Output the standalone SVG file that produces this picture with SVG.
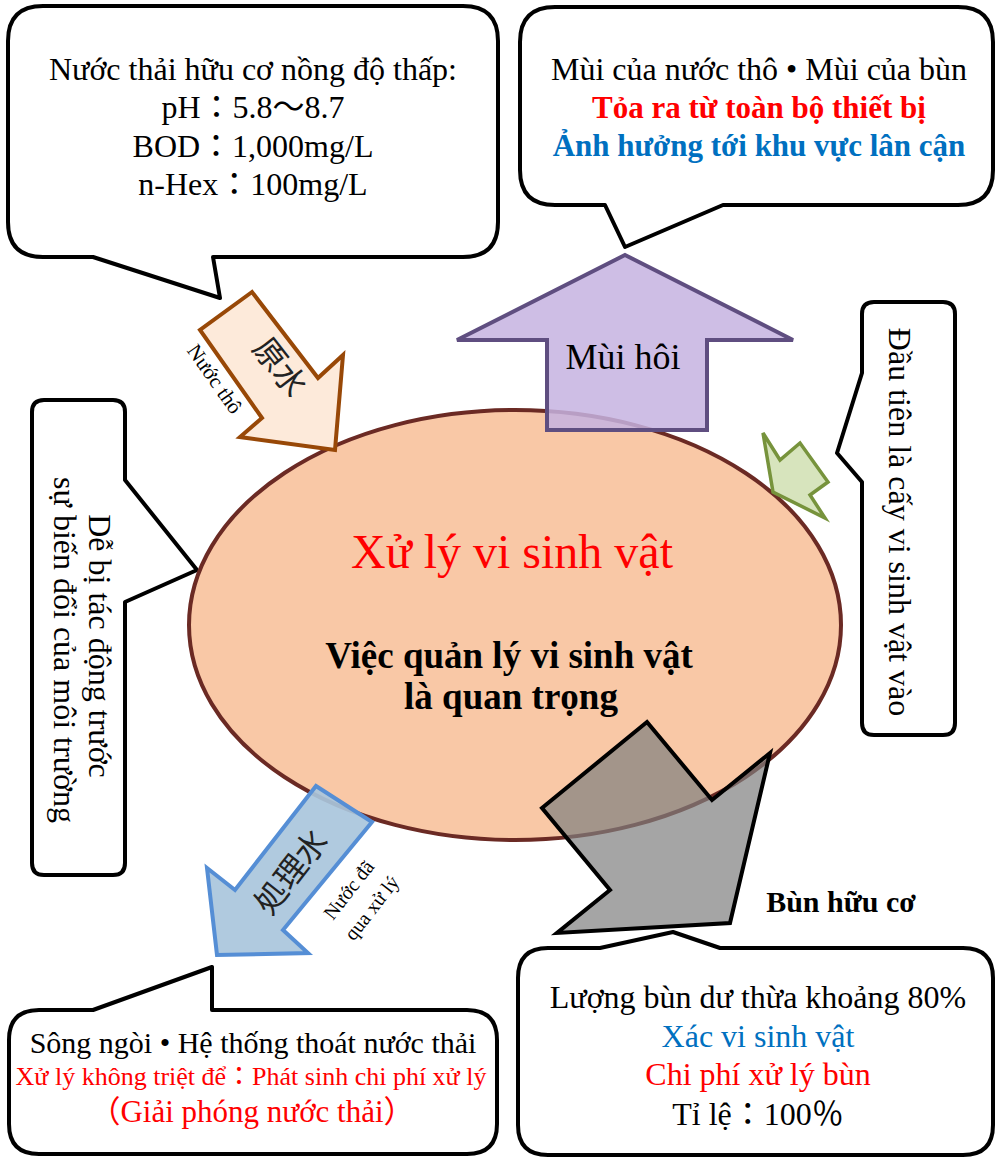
<svg xmlns="http://www.w3.org/2000/svg" width="995" height="1157" viewBox="0 0 995 1157">
<style>
.co{fill:#fff;stroke:#000;stroke-width:4;stroke-linejoin:round}
.t{font-family:"Liberation Serif","Noto Sans CJK JP",serif;fill:#000;text-anchor:middle}
.b{font-weight:bold}
.red{fill:#f00}
.blue{fill:#0070c0}
.cjk{font-family:"Noto Sans CJK JP","Noto Sans CJK SC",sans-serif;fill:#222;text-anchor:middle}
</style>
<rect width="995" height="1157" fill="#fff"/>
<g id="callout-raw-water">
<path class="co" d="M43,6 H463 Q498,6 498,41 V222 Q498,257 463,257 H213 L220,298 L93,257 H43 Q8,257 8,222 V41 Q8,6 43,6 Z"/>
<text class="t" font-size="32" x="253" y="80">Nước thải hữu cơ nồng độ thấp:</text>
<text class="t" font-size="32" x="253" y="118">pH：5.8～8.7</text>
<text class="t" font-size="32" x="253" y="157">BOD：1,000mg/L</text>
<text class="t" font-size="32" x="253" y="195">n-Hex：100mg/L</text>
</g>
<g id="callout-odor">
<path class="co" d="M555,7 H958 Q993,7 993,42 V170 Q993,205 958,205 H723 L625,247 L605,205 H555 Q520,205 520,170 V42 Q520,7 555,7 Z"/>
<text class="t" font-size="32" x="759" y="80">Mùi của nước thô • Mùi của bùn</text>
<text class="t b red" font-size="31" x="759" y="118">Tỏa ra từ toàn bộ thiết bị</text>
<text class="t b blue" font-size="31" x="759" y="156">Ảnh hưởng tới khu vực lân cận</text>
</g>
<g id="callout-seed">
<path class="co" d="M874,302 H943 Q955,302 955,314 V723 Q955,735 943,735 H874 Q862,735 862,723 V482 L837,453 L862,373 V314 Q862,302 874,302 Z"/>
<text class="t" font-size="32" transform="translate(889,522) rotate(90)">Đầu tiên là cấy vi sinh vật vào</text>
</g>
<g id="callout-env">
<path class="co" d="M44,400 H113 Q125,400 125,412 V480 L197,570 L125,602 V863 Q125,875 113,875 H44 Q32,875 32,863 V412 Q32,400 44,400 Z"/>
<text class="t" font-size="32" transform="translate(89,646) rotate(90)">Dễ bị tác động trước</text>
<text class="t" font-size="32" transform="translate(54,650) rotate(90)">sự biến đổi của môi trường</text>
</g>
<g id="callout-discharge">
<path class="co" d="M39,1010 H93 L212,967 V1010 H467 Q497,1010 497,1040 V1124 Q497,1154 467,1154 H39 Q9,1154 9,1124 V1040 Q9,1010 39,1010 Z"/>
<text class="t" font-size="30" x="253" y="1053">Sông ngòi • Hệ thống thoát nước thải</text>
<text class="t red" font-size="26" x="251" y="1085">Xử lý không triệt để：Phát sinh chi phí xử lý</text>
<text class="t red" font-size="31" x="252" y="1122">（Giải phóng nước thải）</text>
</g>
<g id="callout-sludge">
<path class="co" d="M548,948 H600 L673,932 L720,948 H963 Q993,948 993,978 V1125 Q993,1155 963,1155 H548 Q518,1155 518,1125 V978 Q518,948 548,948 Z"/>
<text class="t" font-size="32" x="758" y="1008">Lượng bùn dư thừa khoảng 80%</text>
<text class="t blue" font-size="32" x="758" y="1047">Xác vi sinh vật</text>
<text class="t red" font-size="32" x="758" y="1085">Chi phí xử lý bùn</text>
<text class="t" font-size="32" x="758" y="1125">Tỉ lệ：100％</text>
</g>
<g id="bio-treatment">
<ellipse cx="515" cy="625" rx="326" ry="215" fill="#f9c8a6" stroke="#6b2a24" stroke-width="4"/>
<text class="t red" font-size="48" x="512" y="568">Xử lý vi sinh vật</text>
<text class="t b" font-size="37" x="509" y="668">Việc quản lý vi sinh vật</text>
<text class="t b" font-size="37" x="511" y="709">là quan trọng</text>
</g>
<g id="connectors">
<g id="arrow-raw">
<polygon points="252,292 200,330 262,418 240,437 335,450 343,355 318,378" fill="#fdeada" stroke="#984807" stroke-width="4"/>
<text class="cjk" font-size="32" transform="translate(271,374) rotate(52)">原水</text>
<text class="t" font-size="21" transform="translate(209,383) rotate(55)">Nước thô</text>
</g>
<g id="arrow-treated">
<polygon points="316,786 372,822 283,930 308,953 217,955 207,868 235,890" fill="#a9c6dc" fill-opacity="0.92" stroke="#558ed5" stroke-width="4"/>
<text class="cjk" font-size="32" transform="translate(300,879) rotate(-52)">処理水</text>
<text class="t" font-size="20" transform="translate(354,894) rotate(-52)">Nước đã</text>
<text class="t" font-size="20" transform="translate(377,912) rotate(-52)">qua xử lý</text>
</g>
<g id="arrow-odor">
<polygon points="625,255 793,340 707,340 707,430 547,430 547,340 457,340" fill="#c6b3e0" fill-opacity="0.85" stroke="#5f4e80" stroke-width="4"/>
<text class="t" font-size="36" x="623" y="369">Mùi hôi</text>
</g>
<g id="arrow-seed">
<polygon points="763,433 780,460 800,443 828,482 810,495 825,518 773,492" fill="#d7e4bd" stroke="#77933c" stroke-width="3.5"/>
</g>
<g id="arrow-sludge">
<polygon points="647,722 712,800 770,753 730,923 557,933 610,890 542,808" fill="#7f7f7f" fill-opacity="0.7" stroke="#000" stroke-width="4"/>
</g>
</g>
<g id="label-sludge">
<text class="t b" font-size="30" x="841" y="912">Bùn hữu cơ</text>
</g>
</svg>
